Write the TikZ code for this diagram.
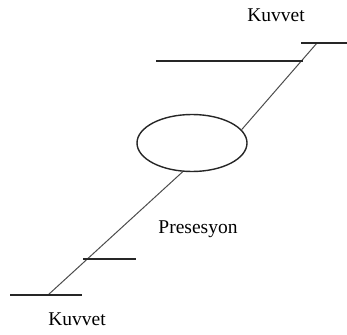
\documentclass[tikz,border=0pt]{standalone}
\usepackage{fontspec}
\setmainfont{Liberation Serif}
\usetikzlibrary{shapes.geometric}
\begin{document}
\begin{tikzpicture}[x=1pt,y=-1pt,
  bar/.style={line width=1.5pt,black!85},
  rod/.style={line width=1pt,black!70},
  lbl/.style={inner sep=0pt,font=\fontsize{19.5}{22}\selectfont}]
\useasboundingbox (0,0) rectangle (347,334);
% ellipse
\node[ellipse,draw,line width=1.4pt,black!85,minimum width=110,minimum height=57,inner sep=0pt] (ell) at (192,143) {};
% coordinates
\coordinate (tr) at (317,43);
\coordinate (trR) at (347,43);
\coordinate (trL) at (301,43);
\coordinate (upL) at (156,61);
\coordinate (upR) at (303,61);
\coordinate (bl) at (48,295);
\coordinate (blL) at (10,295);
\coordinate (blR) at (82,295);
\coordinate (lsL) at (83,259);
\coordinate (lsR) at (136,259);
% rods
\draw[rod] (tr) -- (ell.15);
\draw[rod] (ell.-108) -- (bl);
% bars
\draw[bar] (trL) -- (trR);
\draw[bar] (upL) -- (upR);
\draw[bar] (blL) -- (blR);
\draw[bar] (lsL) -- (lsR);
% labels
\node[lbl] (k1) at (276,15) {Kuvvet};
\node[lbl] (p) at (198,229) {Presesyon};
\node[lbl] (k2) at (77,319) {Kuvvet};
\end{tikzpicture}
\end{document}
